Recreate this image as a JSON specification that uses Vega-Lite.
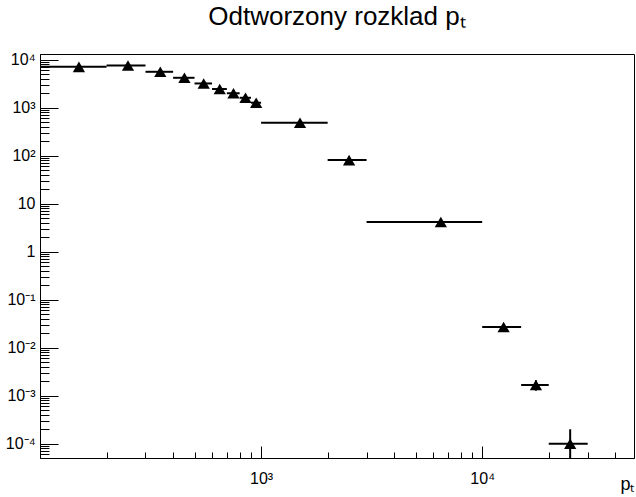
{
  "$schema": "https://vega.github.io/schema/vega-lite/v6.json",
  "autosize": {"type": "none"},
  "padding": {"left": 40, "top": 54, "right": 2, "bottom": 39},
  "width": 594,
  "height": 404,
  "background": "white",
  "title": {
    "text": "Odtworzony rozklad pₜ",
    "font": "Liberation Sans",
    "fontSize": 26,
    "fontWeight": "normal",
    "color": "black",
    "anchor": "middle",
    "baseline": "alphabetic",
    "offset": 1
  },
  "config": {
    "view": {"stroke": "black", "strokeWidth": 1},
    "axis": {
      "domainColor": "black",
      "domainWidth": 1,
      "tickColor": "black",
      "tickWidth": 1,
      "grid": false,
      "labelFont": "Liberation Sans",
      "labelFontSize": 16,
      "labelColor": "black",
      "labelOverlap": false,
      "labelBound": false,
      "labelFlush": false,
      "titleFont": "Liberation Sans",
      "titleFontWeight": "normal",
      "titleColor": "black"
    }
  },
  "data": {
    "values": [
      {"xlo": 100, "xhi": 200, "x": 150, "y": 7100},
      {"xlo": 200, "xhi": 300, "x": 250, "y": 7600},
      {"xlo": 300, "xhi": 400, "x": 350, "y": 5600},
      {"xlo": 400, "xhi": 500, "x": 450, "y": 4200},
      {"xlo": 500, "xhi": 600, "x": 550, "y": 3200},
      {"xlo": 600, "xhi": 700, "x": 650, "y": 2450},
      {"xlo": 700, "xhi": 800, "x": 750, "y": 2000},
      {"xlo": 800, "xhi": 900, "x": 850, "y": 1610},
      {"xlo": 900, "xhi": 1000, "x": 950, "y": 1270},
      {"xlo": 1000, "xhi": 2000, "x": 1500, "y": 487},
      {"xlo": 2000, "xhi": 3000, "x": 2500, "y": 81},
      {"xlo": 3000, "xhi": 10000, "x": 6500, "y": 4.16},
      {"xlo": 10000, "xhi": 15000, "x": 12500, "y": 0.027},
      {"xlo": 15000, "xhi": 20000, "x": 17500, "y": 0.00167, "ylo": 0.00127, "yhi": 0.0021},
      {"xlo": 20000, "xhi": 30000, "x": 25000, "y": 0.0001, "ylo": 0.000000001, "yhi": 0.0002}
    ]
  },
  "layer": [
    {
      "mark": {"type": "rule", "color": "black", "strokeWidth": 2, "clip": true},
      "encoding": {
        "x": {
          "field": "xlo", "type": "quantitative",
          "scale": {"type": "log", "domain": [100, 48600], "nice": false, "zero": false},
          "axis": {
            "title": "pₜ",
            "titleFontSize": 18,
            "titleAnchor": "end",
            "titleAlign": "right",
            "titleBaseline": "alphabetic",
            "titleX": 594,
            "titleY": 31,
            "values": [200, 300, 400, 500, 600, 700, 800, 900, 1000, 2000, 3000, 4000, 5000, 6000, 7000, 8000, 9000, 10000, 20000, 30000, 40000],
            "tickSize": {"condition": {"test": "indexof([1000,10000], datum.value) >= 0", "value": -12}, "value": -6},
            "labelPadding": 24,
            "labelExpr": "datum.value == 1000 ? '10³' : datum.value == 10000 ? '10⁴' : ''"
          }
        },
        "x2": {"field": "xhi"},
        "y": {
          "field": "y", "type": "quantitative",
          "scale": {"type": "log", "domain": [0.0000504, 13150], "nice": false, "zero": false},
          "axis": {
            "title": null,
            "values": [0.00006, 0.00007, 0.00008, 0.00009, 0.0001, 0.0002, 0.0003, 0.0004, 0.0005, 0.0006, 0.0007, 0.0008, 0.0009, 0.001, 0.002, 0.003, 0.004, 0.005, 0.006, 0.007, 0.008, 0.009, 0.01, 0.02, 0.03, 0.04, 0.05, 0.06, 0.07, 0.08, 0.09, 0.1, 0.2, 0.3, 0.4, 0.5, 0.6, 0.7, 0.8, 0.9, 1, 2, 3, 4, 5, 6, 7, 8, 9, 10, 20, 30, 40, 50, 60, 70, 80, 90, 100, 200, 300, 400, 500, 600, 700, 800, 900, 1000, 2000, 3000, 4000, 5000, 6000, 7000, 8000, 9000, 10000],
            "tickSize": {"condition": {"test": "indexof([0.0001,0.001,0.01,0.1,1,10,100,1000,10000], datum.value) >= 0", "value": -18}, "value": -9},
            "labelPadding": 23,
            "labelExpr": "datum.value == 10000 ? '10⁴' : datum.value == 1000 ? '10³' : datum.value == 100 ? '10²' : datum.value == 10 ? '10' : datum.value == 1 ? '1' : datum.value == 0.1 ? '10⁻¹' : datum.value == 0.01 ? '10⁻²' : datum.value == 0.001 ? '10⁻³' : datum.value == 0.0001 ? '10⁻⁴' : ''"
          }
        }
      }
    },
    {
      "transform": [{"filter": "isValid(datum.ylo)"}],
      "mark": {"type": "rule", "color": "black", "strokeWidth": 2, "clip": true},
      "encoding": {
        "x": {"field": "x", "type": "quantitative"},
        "y": {"field": "ylo", "type": "quantitative"},
        "y2": {"field": "yhi"}
      }
    },
    {
      "mark": {"type": "point", "shape": "triangle-up", "filled": true, "color": "black", "opacity": 1, "size": 150, "clip": true},
      "encoding": {
        "x": {"field": "x", "type": "quantitative"},
        "y": {"field": "y", "type": "quantitative"}
      }
    }
  ]
}
